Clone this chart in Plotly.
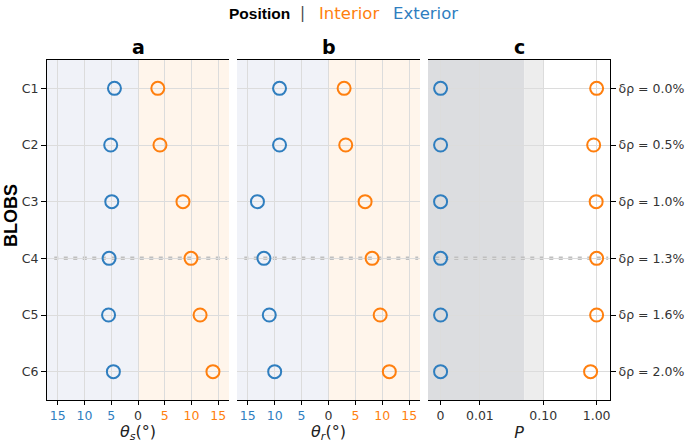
import numpy as np
import plotly.graph_objects as go

# ---------------- data ----------------
blobs = ["C1", "C2", "C3", "C4", "C5", "C6"]
delta_rho = ["δρ = 0.0%", "δρ = 0.5%", "δρ = 1.0%", "δρ = 1.3%", "δρ = 1.6%", "δρ = 2.0%"]
theta_s_interior = [3.7, 4.1, 8.4, 9.9, 11.6, 14.0]
theta_s_exterior = [4.4, 5.1, 4.9, 5.4, 5.5, 4.6]
theta_r_interior = [2.9, 3.2, 6.8, 8.1, 9.6, 11.3]
theta_r_exterior = [9.1, 9.1, 13.2, 12.0, 11.0, 10.0]
p_interior = [1.0, 0.88, 0.98, 1.0, 1.0, 0.77]
p_exterior = [0.0, 0.0, 0.0, 0.0, 0.0, 0.0]
angle_ticks = [15, 10, 5, 0, 5, 10, 15]
p_ticks = [0, 0.01, 0.1, 1.0]
p_tick_labels = ["0", "0.01", "0.10", "1.00"]
highlight_blob = "C4"

BLUE = "#2f7ebf"
ORANGE = "#ff7f0e"
FONT = "DejaVu Sans"
BOLDFONT = "Liberation Sans"

W, H = 685, 443
L, R, T, B = 47, 75, 60, 43
PW = W - L - R


def px2paper_x(px):
    return (px - L) / PW


def py2paper_y(py):
    return 1 - (py - T) / (H - T - B)


def p_axis(p):
    """Axis transform for panel c (linear below 0.01, log-like above)."""
    p = np.asarray(p, dtype=float)
    lin = p / 0.01
    lg = np.interp(np.log10(np.maximum(p, 1e-12)), [-2, -1, 0], [1.0, 2.61, 3.97])
    return np.where(p <= 0.01, lin, lg)


ypos = list(range(len(blobs)))
fig = go.Figure()

marker_common = dict(symbol="circle-open", size=13, line=dict(width=2))

# panel a
fig.add_trace(go.Scatter(x=[-v for v in theta_s_exterior], y=ypos, mode="markers",
                         marker=dict(color=BLUE, **marker_common), xaxis="x", yaxis="y",
                         showlegend=False))
fig.add_trace(go.Scatter(x=theta_s_interior, y=ypos, mode="markers",
                         marker=dict(color=ORANGE, **marker_common), xaxis="x", yaxis="y",
                         showlegend=False))
# panel b
fig.add_trace(go.Scatter(x=[-v for v in theta_r_exterior], y=ypos, mode="markers",
                         marker=dict(color=BLUE, **marker_common), xaxis="x2", yaxis="y2",
                         showlegend=False))
fig.add_trace(go.Scatter(x=theta_r_interior, y=ypos, mode="markers",
                         marker=dict(color=ORANGE, **marker_common), xaxis="x2", yaxis="y2",
                         showlegend=False))
# panel c
fig.add_trace(go.Scatter(x=p_axis(p_exterior), y=ypos, mode="markers",
                         marker=dict(color=BLUE, **marker_common), xaxis="x3", yaxis="y3",
                         showlegend=False))
fig.add_trace(go.Scatter(x=p_axis(p_interior), y=ypos, mode="markers",
                         marker=dict(color=ORANGE, **marker_common), xaxis="x3", yaxis="y3",
                         showlegend=False))

# shading
shapes = []
for xr in ["x", "x2"]:
    shapes.append(dict(type="rect", xref=xr, yref="paper", x0=-17, x1=0, y0=0, y1=1,
                       fillcolor="#f0f2f8", line=dict(width=0), layer="below"))
    shapes.append(dict(type="rect", xref=xr, yref="paper", x0=0, x1=17, y0=0, y1=1,
                       fillcolor="#fff5eb", line=dict(width=0), layer="below"))
shapes.append(dict(type="rect", xref="x3", yref="paper", x0=-0.32, x1=float(p_axis(0.05)),
                   y0=0, y1=1, fillcolor="#dcdde0", line=dict(width=0), layer="below"))
shapes.append(dict(type="rect", xref="x3", yref="paper", x0=float(p_axis(0.05)),
                   x1=float(p_axis(0.1)), y0=0, y1=1, fillcolor="#ededed",
                   line=dict(width=0), layer="below"))
# dotted highlight line
hy = blobs.index(highlight_blob)
for xr, yr in [("x", "y"), ("x2", "y2"), ("x3", "y3")]:
    shapes.append(dict(type="line", xref=xr + " domain", yref=yr, x0=0.04, x1=0.99,
                       y0=hy, y1=hy, line=dict(color="#bfbfbf", width=3.5, dash="4px,5.5px"),
                       layer="below"))
fig.update_layout(shapes=shapes)


def colored_ticks(vals):
    out = []
    n = len(vals)
    for i, v in enumerate(vals):
        if i < n // 2:
            out.append(f"<span style='color:{BLUE}'>{v}</span>")
        elif i == n // 2:
            out.append(f"<span style='color:#333333'>{v}</span>")
        else:
            out.append(f"<span style='color:{ORANGE}'>{v}</span>")
    return out


angle_vals = [-15, -10, -5, 0, 5, 10, 15]
grid = "#dcdcdc"
xcommon = dict(showline=True, linecolor="black", linewidth=1, mirror=True,
               ticks="outside", ticklen=4, tickcolor="black", showgrid=True,
               gridcolor=grid, gridwidth=1, zeroline=False, automargin=False,
               tickfont=dict(family=FONT, size=12.5, color="#333333"),
               title_font=dict(family=FONT, size=16, color="#222222"), title_standoff=4)

fig.update_layout(
    width=W, height=H,
    margin=dict(l=L, r=R, t=T, b=B),
    plot_bgcolor="white", paper_bgcolor="white",
    font=dict(family=FONT, color="#222222"),
    xaxis=dict(domain=[0, px2paper_x(229)], range=[-17, 17], anchor="y",
               tickvals=angle_vals, ticktext=colored_ticks(angle_ticks),
               title_text="<i>θ</i><sub><i>s</i></sub>(°)", **xcommon),
    xaxis2=dict(domain=[px2paper_x(237), px2paper_x(420)], range=[-17, 17], anchor="y2",
                tickvals=angle_vals, ticktext=colored_ticks(angle_ticks),
                title_text="<i>θ</i><sub><i>r</i></sub>(°)", **xcommon),
    xaxis3=dict(domain=[px2paper_x(428), 1], range=[-0.32, 4.31], anchor="y3",
                tickvals=[float(v) for v in p_axis(p_ticks)], ticktext=p_tick_labels,
                title_text="<i>P</i>", **xcommon),
    yaxis=dict(domain=[0, 1], range=[5.5, -0.5], anchor="x", tickvals=ypos, ticktext=blobs,
               showline=True, linecolor="black", linewidth=1, ticks="outside", ticklen=5,
               tickcolor="black", showgrid=True, gridcolor=grid, zeroline=False,
               automargin=False, tickfont=dict(family=FONT, size=12.5, color="#333333")),
    yaxis2=dict(domain=[0, 1], range=[5.5, -0.5], anchor="x2", tickvals=ypos,
                showticklabels=False, showline=False, ticks="", showgrid=True,
                gridcolor=grid, zeroline=False, automargin=False),
    yaxis3=dict(domain=[0, 1], range=[5.5, -0.5], anchor="x3", side="right", tickvals=ypos,
                ticktext=delta_rho, showline=True, linecolor="black", linewidth=1,
                ticks="outside", ticklen=5, tickcolor="black", showgrid=True,
                gridcolor=grid, zeroline=False, automargin=False,
                tickfont=dict(family=FONT, size=12.5, color="#333333")),
)

annotations = []
for lbl, (a, b) in zip(["a", "b", "c"], [(47, 229), (237, 420), (428, 610)]):
    annotations.append(dict(text=f"<b>{lbl}</b>", x=px2paper_x((a + b) / 2), y=py2paper_y(47),
                            xref="paper", yref="paper", showarrow=False,
                            font=dict(family=FONT, size=19, color="black"),
                            xanchor="center", yanchor="middle"))
annotations.append(dict(text="<b>BLOBS</b>", x=px2paper_x(11), y=py2paper_y(216),
                        xref="paper", yref="paper", showarrow=False, textangle=-90,
                        font=dict(family=BOLDFONT, size=18, color="black"),
                        xanchor="center", yanchor="middle"))
# legend-like header
legend_items = [("<b>Position</b>", 259.5, BOLDFONT, 15.5, "black"),
                ("|", 302, FONT, 15, "#444444"),
                ("Interior", 348.5, FONT, 16.5, ORANGE),
                ("Exterior", 425.5, FONT, 16.5, BLUE)]
for txt, cx, fam, sz, col in legend_items:
    annotations.append(dict(text=txt, x=px2paper_x(cx), y=py2paper_y(13), xref="paper",
                            yref="paper", showarrow=False,
                            font=dict(family=fam, size=sz, color=col),
                            xanchor="center", yanchor="middle"))
fig.update_layout(annotations=annotations)

fig.write_html("out.html", config={"displayModeBar": False},
               post_script="document.body.style.margin='0';")
